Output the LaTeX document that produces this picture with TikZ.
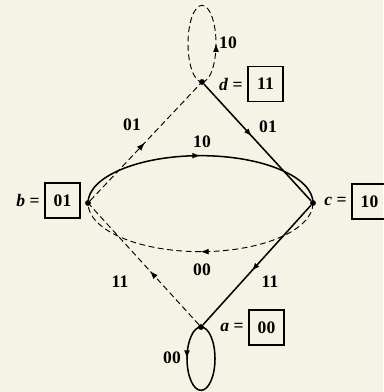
\documentclass[tikz,border=0pt]{standalone}
\usepackage{fontspec}
\setmainfont{Liberation Serif}
\usetikzlibrary{arrows.meta,positioning,decorations.markings}
\definecolor{paper}{RGB}{245,243,229}

\begin{document}
\begin{tikzpicture}[
    dot/.style={circle, fill=black, inner sep=0pt, minimum size=5pt},
    statebox/.style={rectangle, draw=black, line width=0.9pt, minimum width=1.05cm, minimum height=1.05cm, font=\fontsize{15}{17}\selectfont\bfseries},
    eqlabel/.style={font=\fontsize{15}{17}\selectfont\bfseries, inner sep=1pt},
    edgelabel/.style={font=\fontsize{15}{17}\selectfont\bfseries},
    solidline/.style={line width=1.3pt},
    dashline/.style={line width=0.8pt, dash pattern=on 5pt off 3pt},
    midarrow/.style={postaction={decorate, decoration={markings, mark=at position #1 with {\arrow{Latex[length=7pt,width=5pt]}}}}}
]
    \path[use as bounding box, fill=paper] (0,0) rectangle (11.49,11.76);

    % States
    \node[dot] (d) at (6.06,9.30) {};
    \node[dot] (b) at (2.64,5.67) {};
    \node[dot] (c) at (9.39,5.67) {};
    \node[dot] (a) at (6.03,1.95) {};

    % Output boxes
    \node[statebox] (dbox) at (7.965,9.24) {11};
    \node[statebox] (bbox) at (1.875,5.745) {01};
    \node[statebox] (cbox) at (11.085,5.715) {10};
    \node[statebox] (abox) at (7.995,1.935) {00};
    \node[eqlabel, left=3pt of dbox] (deq) {\textit{d} =};
    \node[eqlabel, left=3pt of bbox] (beq) {\textit{b} =};
    \node[eqlabel, left=3pt of cbox] (ceq) {\textit{c} =};
    \node[eqlabel, left=3pt of abox] (aeq) {\textit{a} =};

    % Transitions
    \draw[dashline, midarrow=0.5] (b) -- (d);
    \draw[solidline, midarrow=0.45] (d) -- (c);
    \draw[solidline, midarrow=0.55] (c) -- (a);
    \draw[dashline, midarrow=0.45] (a) -- (b);
    \draw[solidline, midarrow=0.5] (b.center) arc[start angle=180, end angle=0, x radius=3.375, y radius=1.42];
    \draw[dashline, midarrow=0.5] (c.center) arc[start angle=0, end angle=-180, x radius=3.375, y radius=1.46];
    \draw[dashline, midarrow=0.25] (d.center) arc[start angle=-90, end angle=270, x radius=0.42, y radius=1.15];
    \draw[solidline, midarrow=0.25] (a.center) arc[start angle=90, end angle=450, x radius=0.42, y radius=0.95];

    % Input/output labels
    \node[edgelabel] (l1) at (3.96,8.01) {01};
    \node[edgelabel] (l2) at (8.04,7.95) {01};
    \node[edgelabel] (l3) at (6.06,7.50) {10};
    \node[edgelabel] (l4) at (6.06,3.66) {00};
    \node[edgelabel] (l5) at (8.10,3.30) {11};
    \node[edgelabel] (l6) at (3.60,3.30) {11};
    \node[edgelabel] (l7) at (5.16,1.02) {00};
    \node[edgelabel] (l8) at (6.84,10.47) {10};
\end{tikzpicture}
\end{document}
